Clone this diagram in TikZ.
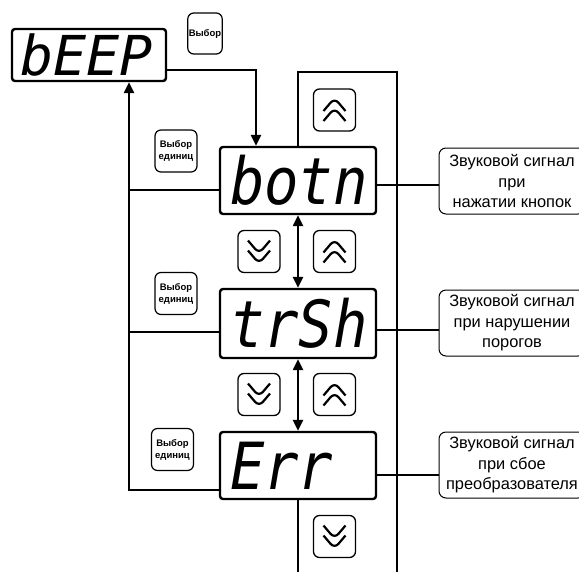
\documentclass[tikz,border=0pt]{standalone}
\usepackage{fontspec}
\setmainfont{Liberation Sans}
\newfontfamily\segfont{DejaVu Sans Mono Oblique}[FakeStretch=0.88]
\newfontfamily\segwide{DejaVu Sans Mono Oblique}
\usepackage{tikz}
\usetikzlibrary{arrows.meta}
\tikzset{>={Triangle[length=11pt,width=10pt]}}
\newcommand{\chevrons}[1]{%
  \draw[line width=2.2pt] ([shift={(-11pt,#1*-1pt)}]path picture bounding box.center)
    -- ++(11pt,#1*13pt) -- ++(11pt,#1*-13pt);
  \draw[line width=2.2pt] ([shift={(-11pt,#1*-11pt)}]path picture bounding box.center)
    -- ++(11pt,#1*13pt) -- ++(11pt,#1*-13pt);
}
\tikzset{
  wire/.style={line width=2.3pt},
  lcd/.style={draw,line width=2.4pt,rounded corners=3pt,minimum height=67pt,
    text width=136pt,inner xsep=10pt,align=left,text height=48pt,text depth=0pt,
    font=\segfont\fontsize{65}{65}\selectfont},
  sel/.style={draw,line width=1.2pt,rounded corners=6pt,minimum width=42pt,
    minimum height=42pt,inner sep=1pt,align=center,
    font=\bfseries\fontsize{9.5}{12}\selectfont},
  key/.style={draw,line width=1.3pt,rounded corners=6pt,minimum width=42pt,
    minimum height=42pt,inner sep=0pt},
  keyup/.style={key,path picture={\chevrons{1}}},
  keydn/.style={key,path picture={\chevrons{-1}}},
  note/.style={draw,line width=1pt,rounded corners=7pt,minimum width=146pt,
    minimum height=66pt,align=center,font=\fontsize{16.4}{20.5}\selectfont},
}

\begin{document}
\begin{tikzpicture}[x=1pt,y=-1pt]
\useasboundingbox (0,0) rectangle (579,571);
\clip (0,0) rectangle (579,571);
% displays
\node[lcd,text width=138pt,inner xsep=8pt,minimum height=52pt,text height=40pt,
  font=\segwide\fontsize{55}{55}\selectfont] (beep) at (89,55) {bEEP};
\node[lcd] (botn) at (298,180.5) {botn};
\node[lcd,minimum height=69pt] (trsh) at (298,323.5) {trSh};
\node[lcd] (err) at (298,465.5) {Err};
% buttons
\node[sel,minimum width=32pt,minimum height=41pt] (selbeep) at (205,33.5) {Выбор};
\node[sel] (sel1) at (176,151) {Выбор\\единиц};
\node[sel] (sel2) at (176,293.5) {Выбор\\единиц};
\node[sel] (sel3) at (172.5,449.5) {Выбор\\единиц};
\node[keyup] (up0) at (334.5,110) {};
\node[keydn] (dn1) at (259,251.5) {};
\node[keyup] (up1) at (334.5,251.5) {};
\node[keydn] (dn2) at (259,394.5) {};
\node[keyup] (up2) at (334.5,394.5) {};
\node[keydn] (dn3) at (334.5,536.5) {};
% notes
\node[note] (n1) at (512,181) {Звуковой сигнал\\при\\нажатии кнопок};
\node[note] (n2) at (512,323) {Звуковой сигнал\\при нарушении\\порогов};
\node[note] (n3) at (512,465) {Звуковой сигнал\\при сбое\\преобразователя};
% wiring
\coordinate (bus) at (129,0);
\coordinate (rtop) at (397,72);
\coordinate (bot) at (0,575);
\draw[wire,->] ([yshift=-15pt]beep.east) -| ([xshift=-42pt]botn.north);
\draw[wire,->] ([yshift=-24.5pt]err.west) -| ([xshift=40pt]beep.south);
\draw[wire] ([yshift=-9.5pt]botn.west) coordinate (bl) -- (bl -| bus);
\draw[wire] ([yshift=-8.5pt]trsh.west) coordinate (tl) -- (tl -| bus);
\draw[wire] ([yshift=-4.5pt]botn.east) coordinate (br) -- (br -| n1.west);
\draw[wire] ([yshift=-6.5pt]trsh.east) coordinate (tr) -- (tr -| n2.west);
\draw[wire] ([yshift=-9.5pt]err.east) coordinate (er) -- (er -| n3.west);
\draw[wire,<->] (botn.south) -- (trsh.north);
\draw[wire,<->] (trsh.south) -- (err.north);
\draw[wire] (botn.north) -- (botn.north |- rtop) -- (rtop) -- (rtop |- bot);
\draw[wire] (err.south) -- (err.south |- bot);
\end{tikzpicture}
\end{document}
